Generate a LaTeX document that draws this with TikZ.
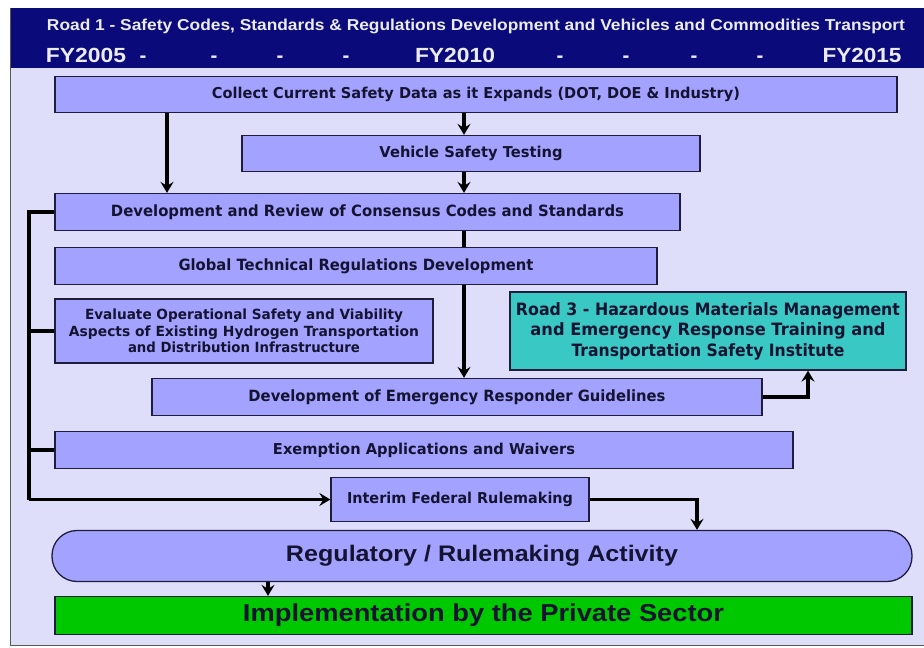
\documentclass[tikz,border=0pt]{standalone}
\usepackage{fontspec}
\setmainfont{Liberation Sans}
\newfontfamily\widefont{DejaVu Sans}
\usepackage{graphicx}
\usetikzlibrary{arrows.meta}

% stretch or squeeze a text to a given width, keeping its height
\newcommand\fitw[2]{\resizebox{#1}{\height}{#2}}

\definecolor{navy}{RGB}{10,10,122}
\definecolor{paper}{RGB}{222,222,250}
\definecolor{boxfill}{RGB}{163,163,255}
\definecolor{teal3}{RGB}{58,200,196}
\definecolor{implgreen}{RGB}{0,200,0}
\definecolor{ink}{RGB}{20,20,50}
\definecolor{edge}{RGB}{30,30,60}

\tikzset{
  stepbox/.style={draw=edge, line width=1.3pt, fill=boxfill, inner sep=0pt,
    text=ink, align=center},
  narrowtxt/.style={font=\bfseries\fontsize{#1}{#1}\selectfont},
  widetxt/.style={font=\widefont\bfseries\fontsize{#1}{#1}\selectfont},
  headtxt/.style={text=white!92!navy, inner sep=0pt, anchor=base,
    font=\bfseries\fontsize{#1}{#1}\selectfont},
  link/.style={line width=3.2pt, draw=black},
  arr/.style={link, -{Stealth[length=11pt,width=13pt,inset=4pt]}},
}

\begin{document}
\begin{tikzpicture}[x=1pt,y=-1pt]
\useasboundingbox (0,0) rectangle (924,648);

% frame: header band and light panel
\fill[paper] (10,68) rectangle (924,645);
\fill[navy] (10,8) rectangle (924,68);
\draw[gray!70!black, line width=0.8pt] (10,8) -- (10,645) -- (924,645);

% header texts
\node[headtxt=15.8] (title) at (476,30)
  {\fitw{858pt}{Road 1 - Safety Codes, Standards \& Regulations Development and Vehicles and Commodities Transport}};
\node[headtxt=20.5] (fy05) at (86,62) {\fitw{80pt}{FY2005}};
\node[headtxt=20.5] (d1) at (143,62) {-};
\node[headtxt=20.5] (d2) at (214,62) {-};
\node[headtxt=20.5] (d3) at (280,62) {-};
\node[headtxt=20.5] (d4) at (346,62) {-};
\node[headtxt=20.5] (fy10) at (455,62) {\fitw{80pt}{FY2010}};
\node[headtxt=20.5] (d5) at (560,62) {-};
\node[headtxt=20.5] (d6) at (626,62) {-};
\node[headtxt=20.5] (d7) at (694,62) {-};
\node[headtxt=20.5] (d8) at (760,62) {-};
\node[headtxt=20.5] (fy15) at (862,62) {\fitw{79pt}{FY2015}};

% activity boxes
\node[stepbox, widetxt=15, minimum width=842pt, minimum height=36pt] (collect) at (476,94.5)
  {\fitw{528pt}{Collect Current Safety Data as it Expands (DOT, DOE \& Industry)}};
\node[stepbox, widetxt=15, minimum width=458pt, minimum height=36pt] (vehicle) at (471,153.5)
  {\fitw{183pt}{Vehicle Safety Testing}};
\node[stepbox, widetxt=15.5, minimum width=625pt, minimum height=37pt] (dev) at (367.5,212)
  {\fitw{513pt}{Development and Review of Consensus Codes and Standards}};
\node[stepbox, widetxt=15.5, minimum width=602pt, minimum height=37pt] (gtr) at (356,266)
  {\fitw{355pt}{Global Technical Regulations Development}};
\node[stepbox, widetxt=14, minimum width=378pt, minimum height=64pt] (eval) at (244,331)
  {\fitw{318pt}{Evaluate Operational Safety and Viability}\\[2.5pt]
   \fitw{350pt}{Aspects of Existing Hydrogen Transportation}\\[2.5pt]
   \fitw{232pt}{and Distribution Infrastructure}};
\node[stepbox, fill=teal3, widetxt=17, minimum width=396pt, minimum height=78pt] (road3) at (708,331)
  {\fitw{384pt}{Road 3 - Hazardous Materials Management}\\[3.5pt]
   \fitw{355pt}{and Emergency Response Training and}\\[3.5pt]
   \fitw{273pt}{Transportation Safety Institute}};
\node[stepbox, widetxt=15.5, minimum width=610pt, minimum height=37pt] (emer) at (457,397)
  {\fitw{417pt}{Development of Emergency Responder Guidelines}};
\node[stepbox, widetxt=15, minimum width=738pt, minimum height=37pt] (exempt) at (424,450)
  {\fitw{302pt}{Exemption Applications and Waivers}};
\node[stepbox, widetxt=15, minimum width=258pt, minimum height=44pt] (interim) at (460,499.5)
  {\fitw{226pt}{Interim Federal Rulemaking}};
\node[stepbox, rounded corners=25pt, narrowtxt=22.5, minimum width=860pt, minimum height=51pt] (reg) at (482,556)
  {\fitw{392pt}{Regulatory / Rulemaking Activity}};
\node[stepbox, fill=implgreen, narrowtxt=24.5, minimum width=857pt, minimum height=38pt] (impl) at (483.5,615.5)
  {\fitw{481pt}{Implementation by the Private Sector}};

% routing columns
\coordinate (bus) at (29,0);
\coordinate (colA) at (167,0);
\coordinate (colB) at (464,0);
\coordinate (colR) at (808,0);
\coordinate (colI) at (697,0);
\coordinate (colP) at (268,0);

% main flow
\draw[arr] (collect.south -| colA) -- (dev.north -| colA);
\draw[arr] (collect.south -| colB) -- (vehicle.north -| colB);
\draw[arr] (vehicle.south -| colB) -- (dev.north -| colB);
\draw[link] (dev.south -| colB) -- (gtr.north -| colB);
\draw[arr] (gtr.south -| colB) -- (emer.north -| colB);
\draw[arr] (emer.east) -| (road3.south -| colR);

% left collector line into interim rulemaking
\draw[link] (dev.west) -- (dev.west -| bus) -- (bus |- interim.west);
\draw[link] (eval.west) -- (eval.west -| bus);
\draw[link] (exempt.west) -- (exempt.west -| bus);
\draw[arr] (bus |- interim.west) -- (interim.west);

% rulemaking to implementation
\draw[arr] (interim.east) -| (reg.north -| colI);
\draw[arr] (reg.south -| colP) -- (impl.north -| colP);
\end{tikzpicture}
\end{document}
